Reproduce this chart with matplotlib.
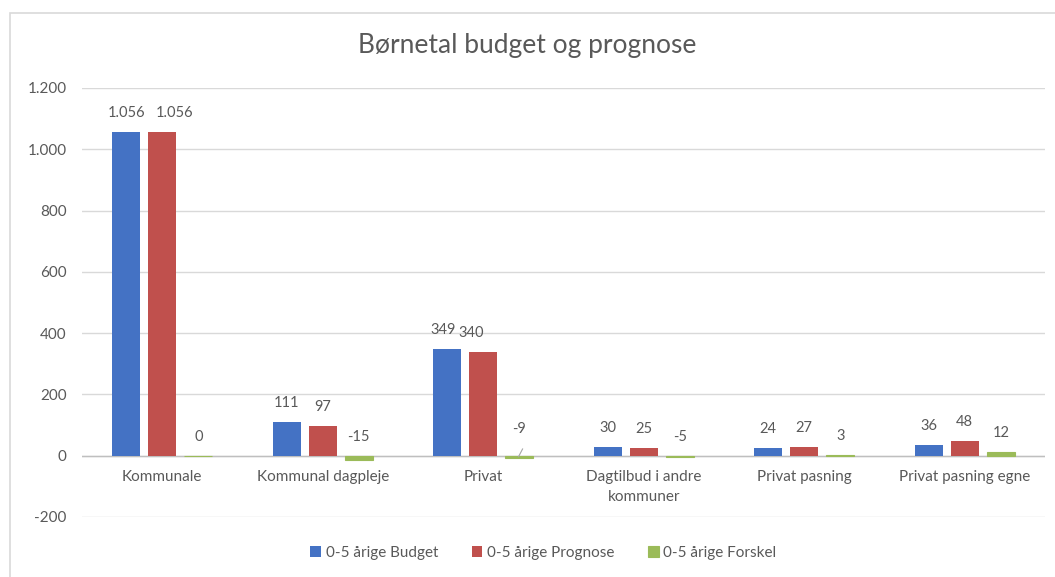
import matplotlib
matplotlib.use("Agg")
import matplotlib.pyplot as plt
from matplotlib.patches import Rectangle
from matplotlib.ticker import FuncFormatter
import numpy as np

categories = ["Kommunale", "Kommunal dagpleje", "Privat", "Dagtilbud i andre\nkommuner",
              "Privat pasning", "Privat pasning egne"]
budget = [1056, 111, 349, 30, 24, 36]
prognose = [1056, 97, 340, 25, 27, 48]
forskel = [0, -15, -9, -5, 3, 12]
series_names = ["0-5 årige Budget", "0-5 årige Prognose", "0-5 årige Forskel"]
colors = ["#4472C4", "#C0504D", "#9BBB59"]
yticks = [-200, 0, 200, 400, 600, 800, 1000, 1200]

# horizontal nudges (pixels) of some data labels, as in the reference
label_nudge = {(0, 0): 0, (1, 0): 12, (0, 2): -4, (1, 2): -12}

plt.rcParams['font.family'] = ['Lato', 'DejaVu Sans']
text_color = "#595959"

fig = plt.figure(figsize=(10.55, 5.77), dpi=100)
fig.patches.append(Rectangle((10/1055, -0.01), 1.02, (577-13)/577 + 0.01,
                             transform=fig.transFigure, fill=False,
                             edgecolor="#D9D9D9", linewidth=1.2))
ax = fig.add_axes([82/1055, (577-517)/577, (1045-82)/1055, (517-88)/577])

x = np.arange(len(categories))
w = 0.175
off = 0.225
for i, (vals, col, name) in enumerate(zip([budget, prognose, forskel], colors, series_names)):
    pos = x + (i - 1) * off
    ax.bar(pos, vals, width=w, color=col, label=name, zorder=3,
           edgecolor=col if i == 2 else "none", linewidth=0.8 if i == 2 else 0)
    for j, (p, v) in enumerate(zip(pos, vals)):
        base = max(v, 0)
        extra = 0
        if v == -9:
            extra = 25
            ax.plot([p - 0.005, p + 0.02], [-3, 22], color="#A6A6A6", lw=0.8, zorder=4)
        dx = label_nudge.get((i, j), 0) * 0.72
        ax.annotate(f"{v:,}".replace(",", "."), xy=(p, base + 62 + extra),
                    xytext=(dx, 0), textcoords="offset points",
                    ha="center", va="center", fontsize=10.5, color=text_color)

ax.set_xlim(-0.5, len(categories) - 0.5)
ax.set_ylim(-200, 1200)
ax.set_yticks(yticks)
ax.yaxis.set_major_formatter(FuncFormatter(lambda v, p: f"{int(v):,}".replace(",", ".")))
ax.grid(axis="y", color="#D9D9D9", linewidth=1, zorder=0)
ax.axhline(0, color="#BFBFBF", linewidth=1, zorder=2)
for s in ax.spines.values():
    s.set_visible(False)
ax.tick_params(axis="both", length=0, colors=text_color, labelsize=11)
ax.tick_params(axis="y", pad=11)
ax.set_xticks(x)
ax.set_xticklabels([])
for xi, c in zip(x, categories):
    ax.text(xi, -46, c, ha="center", va="top",
            fontsize=11, color=text_color, linespacing=1.6)

fig.text(0.5, (577 - 45) / 577, "Børnetal budget og prognose", ha="center", va="center",
         fontsize=19, color=text_color)

handles, labels = ax.get_legend_handles_labels()
leg = fig.legend(handles, labels, loc="center", bbox_to_anchor=(0.515, (577 - 553) / 577),
                 ncol=3, frameon=False, fontsize=11, handlelength=0.7, handleheight=0.7,
                 handletextpad=0.3, columnspacing=2.2)
for t in leg.get_texts():
    t.set_color(text_color)

fig.savefig("out.png", dpi=100)
